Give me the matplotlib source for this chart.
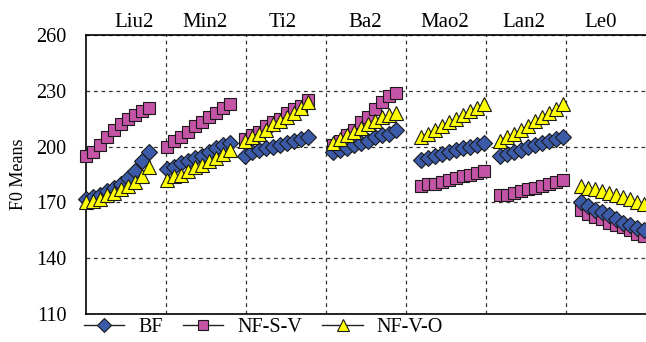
import matplotlib
matplotlib.use("Agg")
import numpy as np
import matplotlib.pyplot as plt
from matplotlib.lines import Line2D

syllables = ["Liu2", "Min2", "Ti2", "Ba2", "Mao2", "Lan2", "Le0"]

bf = [
    [172, 173, 174, 176, 178, 180, 183, 187, 192, 197],
    [188, 189, 191, 192, 194, 195, 197, 199, 201, 202],
    [195, 197, 198, 199, 200, 201, 202, 203, 204, 205],
    [197, 198, 199, 201, 202, 203, 205, 206, 207, 209],
    [193, 194, 195, 196, 197, 198, 199, 200, 201, 202],
    [195, 196, 197, 198, 200, 201, 202, 203, 204, 205],
    [170, 168, 166, 165, 163, 161, 159, 158, 156, 155],
]
nf_s_v = [
    [195, 197, 201, 205, 209, 212, 215, 217, 219, 221],
    [200, 203, 205, 208, 211, 213, 216, 218, 221, 223],
    [204, 206, 208, 211, 213, 215, 218, 220, 222, 225],
    [201, 203, 206, 209, 213, 216, 220, 224, 227, 229],
    [179, 180, 180, 181, 182, 183, 184, 185, 186, 187],
    [174, 174, 175, 176, 177, 178, 179, 180, 181, 182],
    [166, 164, 162, 161, 159, 158, 157, 155, 153, 152],
]
nf_v_o = [
    [170, 171, 172, 174, 175, 177, 179, 181, 184, 189],
    [182, 184, 185, 187, 189, 190, 192, 194, 196, 198],
    [203, 205, 207, 209, 212, 214, 216, 218, 221, 224],
    [202, 204, 206, 208, 210, 212, 214, 216, 217, 218],
    [205, 207, 209, 211, 213, 215, 217, 219, 221, 223],
    [203, 205, 207, 209, 211, 214, 216, 218, 220, 223],
    [179, 178, 177, 176, 175, 174, 173, 172, 170, 169],
]
yticks = [110, 140, 170, 200, 230, 260]

# where each syllable's points begin on the x axis
seg_start = [0, 12.1, 23.8, 37.0, 50.2, 62.1, 74.2]
label_x = [7.2, 17.8, 29.5, 41.9, 53.8, 65.7, 77.2]
step = 1.05

plt.rcParams["font.family"] = ["Liberation Serif", "DejaVu Serif"]

fig = plt.figure(figsize=(6.46, 3.42), dpi=100)
ax = fig.add_axes([86 / 646, 1 - 314 / 342, 1 - 86 / 646, (314 - 35) / 342])

styles = [
    (bf, "D", "#3B5BA9", 8.5, "BF"),
    (nf_s_v, "s", "#C354A6", 8.5, "NF-S-V"),
    (nf_v_o, "^", "#FFFF00", 9.5, "NF-V-O"),
]
for order, (data, mk, col, ms, name) in enumerate([styles[1], styles[0], styles[2]]):
    for k, vals in enumerate(data):
        x = seg_start[k] + step * np.arange(len(vals))
        ax.plot(x, vals, color="#222222", lw=0.8, marker=mk, ms=ms,
                mfc=col, mec="#1a1a1a", mew=0.8, zorder=3 + order,
                clip_on=False)

ax.set_xlim(0, 84)
ax.set_ylim(110, 260)
ax.set_yticks(yticks)
ax.set_xticks(np.arange(12, 84, 12))
ax.tick_params(axis="x", length=0, labelbottom=False)
ax.tick_params(axis="y", length=0, labelsize=14.5, pad=14)
ax.grid(True, ls=(0, (3, 3)), color="#333333", lw=0.9)
ax.set_axisbelow(True)
ax.spines["right"].set_visible(False)
for s in ["left", "top", "bottom"]:
    ax.spines[s].set_linewidth(1.2)
ax.set_ylabel("F0 Means", fontsize=13, labelpad=7)

for lx, name in zip(label_x, syllables):
    ax.text(lx, 261.5, name, ha="center", va="bottom", fontsize=15)

handles = [Line2D([], [], color="#222222", lw=1.0, marker=mk, ms=ms - 1,
                  mfc=col, mec="#1a1a1a", mew=0.8)
           for data, mk, col, ms, name in styles]
fig.legend(handles, [s[4] for s in styles], loc="upper left",
           bbox_to_anchor=(84 / 646, 1 - 318 / 342), ncol=3, frameon=False,
           fontsize=14.5, handlelength=2.0, columnspacing=1.0, handletextpad=0.7,
           borderaxespad=0, borderpad=0)

fig.savefig("out.png", dpi=100)
